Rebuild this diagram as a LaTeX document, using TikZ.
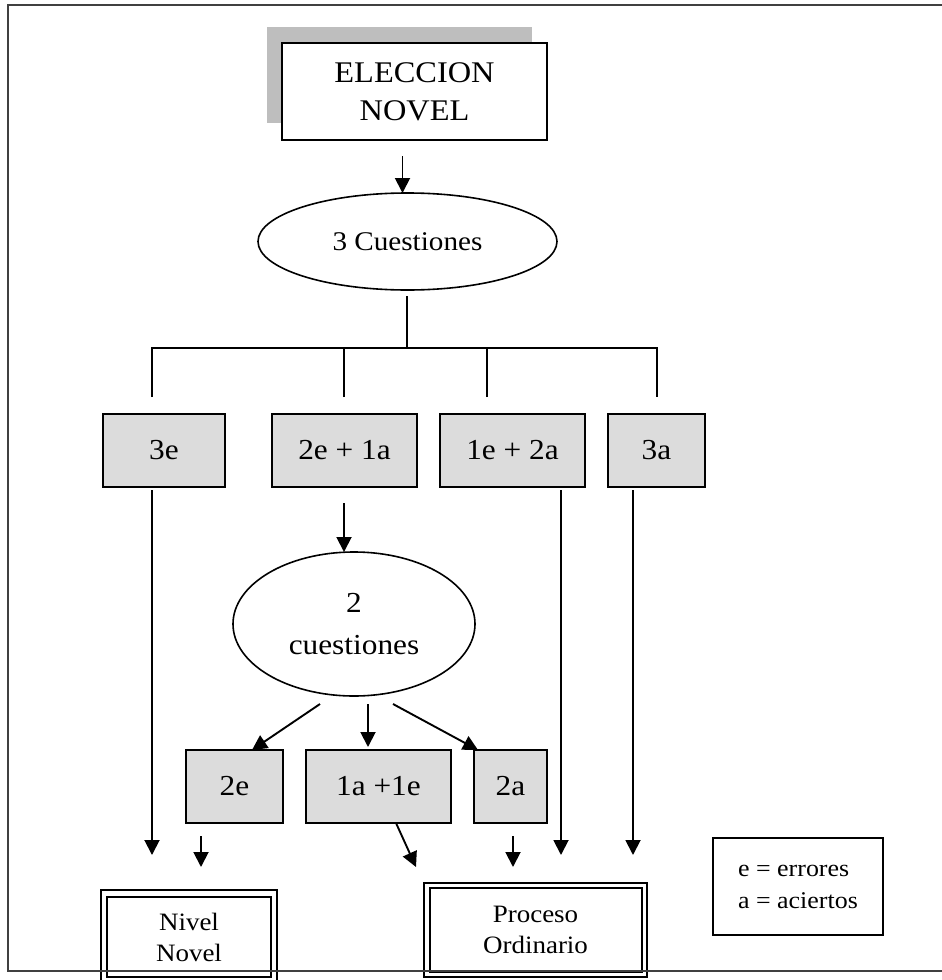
\documentclass[tikz,border=0pt]{standalone}
\usepackage{fontspec}
\setmainfont{Liberation Serif}[FakeStretch=1.08]
\usetikzlibrary{arrows.meta,shapes.geometric,calc}
\definecolor{boxgray}{HTML}{DCDCDC}
\definecolor{shadowgray}{HTML}{BEBEBE}
\definecolor{framec}{HTML}{404040}
\begin{document}
\begin{tikzpicture}[x=1pt,y=-1pt,
  ln/.style={line width=1.9pt},
  arr/.style={line width=1.9pt,-{Triangle[length=15pt,width=15pt]}},
  gbox/.style={draw,line width=1.8pt,fill=boxgray,inner sep=0pt,outer sep=0pt,
    minimum height=73pt,font=\fontsize{29}{34}\selectfont},
  oval/.style={draw,ellipse,line width=1.6pt,inner sep=0pt,outer sep=0pt,align=center},
  dbl/.style={draw,line width=2.8pt,inner sep=0pt,outer sep=0pt,align=center,
    font=\fontsize{25}{31}\selectfont}]
\clip (0,0) rectangle (942,980);
\fill[white] (0,0) rectangle (942,980);

% title box with shadow
\fill[shadowgray] (267,27) rectangle (532,123);
\node[draw,fill=white,line width=1.8pt,inner sep=0pt,outer sep=0pt,
  minimum width=265pt,minimum height=97pt,align=center,
  font=\fontsize{30}{38}\selectfont] (elec) at (414.5,91.5) {ELECCION\\NOVEL};

% first ellipse
\node[oval,minimum width=299pt,minimum height=97pt,
  font=\fontsize{27}{32}\selectfont] (c3) at (407.5,241.5) {3 Cuestiones};
\draw[arr] ($(c3.north)+(-5,-37)$) -- ($(c3.north)+(-5,0)$);

% tree
\coordinate (hub) at (407,348);
\coordinate (d1) at (152,397);
\coordinate (d2) at (344,397);
\coordinate (d3) at (487,397);
\coordinate (d4) at (657,397);
\draw[ln] ($(c3.south)+(-0.5,6)$) -- (hub);
\draw[ln] (d1) |- (hub) -| (d4);
\draw[ln] (d2) -- (d2 |- hub);
\draw[ln] (d3) -- (d3 |- hub);

% first row
\node[gbox,minimum width=122pt] (b3e)   at (164,450.5)   {3e};
\node[gbox,minimum width=145pt] (b2e1a) at (344.5,450.5) {2e + 1a};
\node[gbox,minimum width=145pt] (b1e2a) at (512.5,450.5) {1e + 2a};
\node[gbox,minimum width=97pt]  (b3a)   at (656.5,450.5) {3a};

% second ellipse
\node[oval,minimum width=242pt,minimum height=144pt,
  font=\fontsize{29}{42}\selectfont] (c2) at (354,624) {2\\cuestiones};
\draw[arr] (b2e1a.south -| d2) ++(0,16) -- (c2.north -| d2);

% second row
\node[gbox,minimum width=97pt]  (b2e)   at (234.5,786.5) {2e};
\node[gbox,minimum width=145pt] (b1a1e) at (378.5,786.5) {1a +1e};
\node[gbox,minimum width=73pt]  (b2a)   at (510.5,786.5) {2a};

\draw[arr] ($(c2.south)+(-34,8)$) -- ($(b2e.north)+(17.5,0)$);
\draw[arr] ($(c2.south)+(14,8)$) -- ($(b1a1e.north)+(-10.5,-3)$);
\draw[arr] ($(c2.south)+(39,8)$) -- ($(b2a.north)+(-32.5,0)$);

% final boxes
\node[dbl,minimum width=176pt,minimum height=95pt] (nivel) at (189,937.5) {Nivel\\Novel};
\draw[line width=1.8pt] ($(nivel.north west)+(6,7)$) rectangle ($(nivel.south east)+(-6,-8)$);
\node[dbl,minimum width=223pt,minimum height=94pt] (proc) at (535.5,930) {Proceso\\Ordinario};
\draw[line width=1.8pt] ($(proc.north west)+(6,5)$) rectangle ($(proc.south east)+(-5,-5)$);

% arrows to results
\coordinate (t1) at (152,855);
\coordinate (t2) at (201,867);
\coordinate (t3) at (416,867);
\coordinate (t4) at (513,867);
\coordinate (t5) at (561,855);
\coordinate (t6) at (633,855);
\draw[arr] (b3e.south -| t1) ++(0,3) -- (t1);
\draw[arr] (b2e.south -| t2) ++(0,13) -- (t2);
\draw[arr] ($(b1a1e.south)+(17.5,0)$) -- (t3);
\draw[arr] (b2a.south -| t4) ++(0,13) -- (t4);
\draw[arr] (b1e2a.south -| t5) ++(0,3) -- (t5);
\draw[arr] (b3a.south -| t6) ++(0,3) -- (t6);

% legend
\node[draw,line width=1.8pt,minimum width=170pt,minimum height=97pt,inner sep=0pt,
  align=left,font=\fontsize{24}{32}\selectfont] (leg) at (798,886.5) {e = errores\\a = aciertos};

% frame
\draw[framec,line width=2.4pt] (942,5) -- (8,5) -- (8,971) -- (942,971);
\end{tikzpicture}
\end{document}
